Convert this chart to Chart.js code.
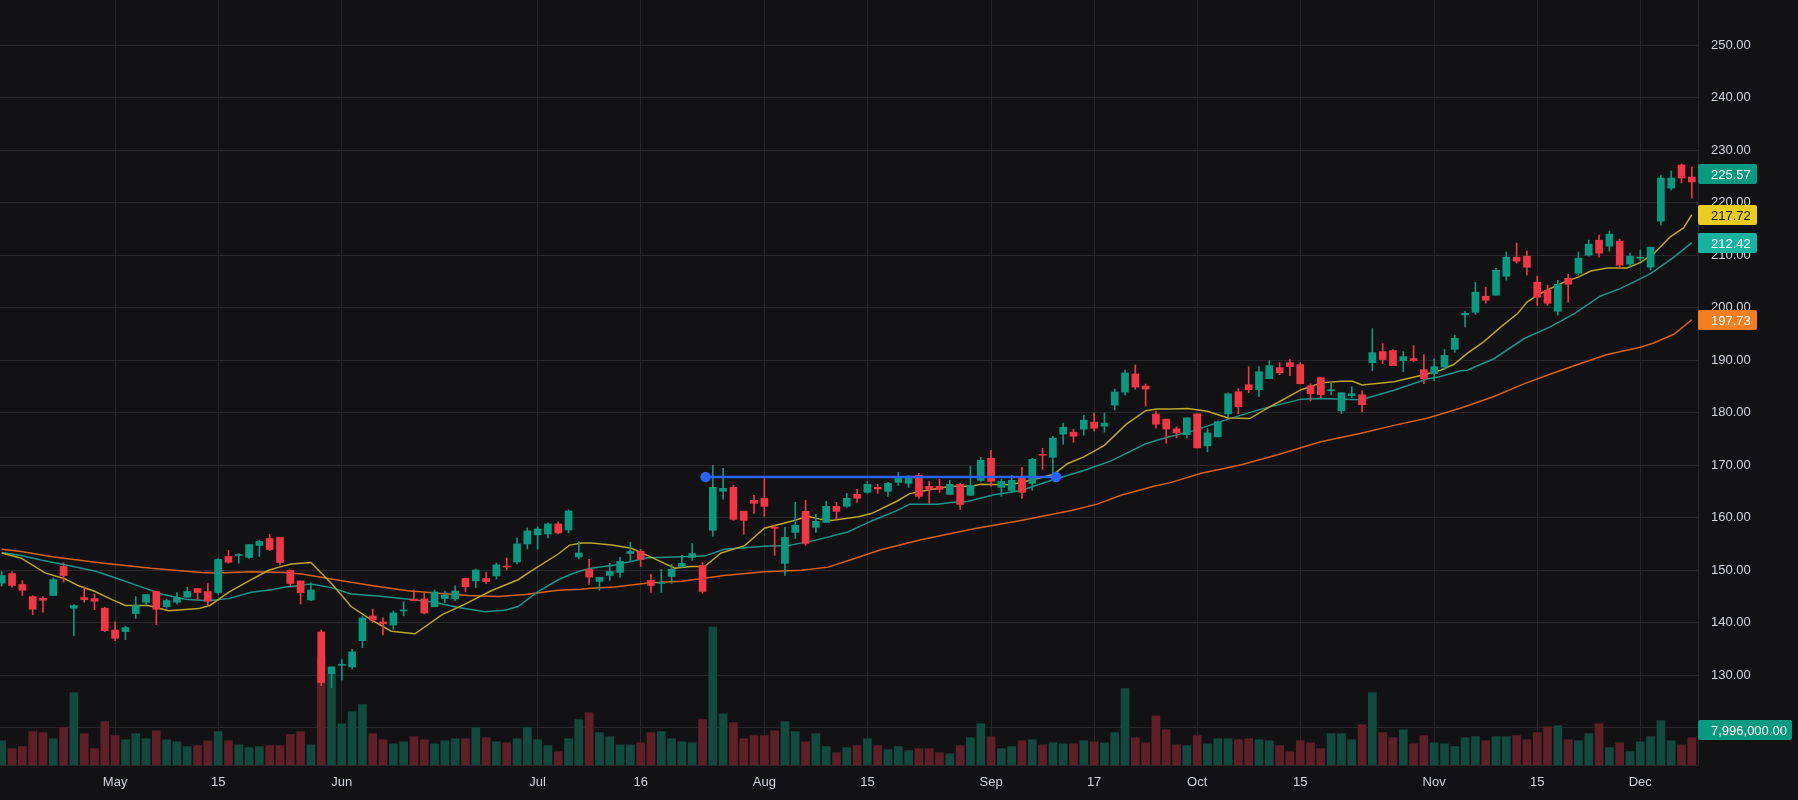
<!DOCTYPE html>
<html>
<head>
<meta charset="utf-8">
<title>Candles</title>
<script src="https://cdn.jsdelivr.net/npm/chart.js@4.4.1/dist/chart.umd.min.js"></script>
<style>
  html, body { margin: 0; padding: 0; background: #121214; }
  canvas { display: block; }
</style>
</head>
<body>
<canvas id="c" width="1798" height="800"></canvas>
<script>
// daily bars, index 0 = Apr 16
const opens = [
  147.54,149.38,147.29,145.0,144.68,145.19,150.72,142.77,144.8,144.61,
  142.77,138.64,138.32,141.75,143.92,145.95,143.09,143.92,144.87,146.52,
  145.95,145.76,152.63,152.82,152.44,154.72,156.06,156.25,149.96,147.97,
  144.35,138.25,130.32,131.9,131.59,136.6,141.3,140.16,139.59,142.25,
  144.54,144.54,143.08,144.6,144.54,148.44,147.97,148.44,148.92,150.8,
  151.59,155.02,156.73,156.92,158.83,157.68,152.54,150.2,147.88,149.02,
  149.6,153.2,153.6,148.07,147.5,148.83,150.74,152.45,150.93,157.6,
  165.04,165.8,161.23,163.33,163.71,158.2,151.31,157.22,161.23,158.18,
  159.13,162.18,162.18,164.47,164.85,165.8,165.03,166.75,166.56,168.09,
  165.99,165.99,164.46,166.37,164.27,167.13,171.34,165.8,165.22,167.52,
  166.56,172.1,171.53,175.92,176.31,176.88,178.22,177.45,181.46,183.95,
  187.39,185.1,179.75,178.8,176.94,175.8,179.81,173.69,175.41,179.81,
  184.01,185.35,184.39,186.5,188.6,189.55,189.17,185.16,186.69,184.2,
  180.38,183.25,183.44,189.55,191.66,191.85,189.94,190.32,188.22,187.45,
  188.7,192.09,198.64,199.15,202.2,202.39,206.02,209.64,209.83,204.87,
  203.35,199.34,205.63,206.59,210.02,212.89,211.74,212.7,208.31,209.45,
  207.74,216.51,222.81,227.2,224.91
];
const highs = [
  149.76,149.76,148.05,145.19,145.0,148.56,151.42,143.47,146.9,145.5,
  142.96,140.17,139.34,145.0,145.38,145.95,144.49,145.76,146.78,146.52,
  147.48,152.24,153.77,153.2,154.91,155.68,156.82,156.25,149.96,147.97,
  147.59,138.63,131.59,133.05,134.95,141.3,142.6,140.92,142.25,143.97,
  146.25,145.68,146.25,146.06,147.02,148.44,150.25,149.68,151.4,152.35,
  156.16,158.06,158.25,159.02,159.21,161.5,155.4,152.1,148.64,151.31,
  152.45,155.3,153.98,149.21,150.17,151.12,152.83,155.1,151.5,170.0,
  169.43,166.19,161.23,164.28,167.5,158.56,158.18,162.94,163.33,160.65,
  163.14,162.94,164.66,165.42,166.95,166.37,166.75,168.66,168.09,168.47,
  166.94,167.32,167.13,166.56,169.81,171.53,172.87,167.32,168.09,169.62,
  171.34,173.25,175.54,178.03,176.88,179.55,179.94,179.94,184.52,188.15,
  189.11,185.48,180.32,178.8,177.32,179.04,179.81,176.94,178.47,183.82,
  184.59,188.79,188.79,189.94,189.55,190.13,189.55,185.54,186.69,185.73,
  183.82,184.97,184.2,196.05,193.18,192.04,191.66,192.8,191.08,190.32,
  192.09,194.76,199.34,204.87,203.92,207.54,210.6,212.32,210.79,206.02,
  204.3,205.25,206.4,210.6,212.89,213.84,214.6,213.08,210.41,210.98,
  211.55,225.3,226.06,227.39,226.82
];
const lows = [
  146.97,146.78,145.19,141.56,142.0,145.19,147.73,137.56,143.92,142.52,
  138.3,136.6,136.8,140.87,143.4,139.66,142.77,143.53,144.87,144.36,
  143.4,145.38,151.35,151.35,152.24,152.63,153.77,151.04,147.1,143.59,
  144.22,128.03,127.65,129.1,131.2,135.27,140.03,137.68,138.76,141.3,
  144.22,141.68,143.08,143.84,144.22,145.94,146.7,147.46,148.35,150.06,
  151.21,154.06,154.06,156.16,156.92,157.11,152.16,147.3,146.16,148.07,
  148.64,151.88,150.74,145.78,145.78,147.5,150.55,151.88,145.6,156.46,
  163.52,159.51,156.84,160.84,160.27,152.83,149.02,156.08,154.74,157.22,
  159.13,159.7,161.99,162.94,164.66,164.65,164.08,166.18,165.8,163.69,
  162.74,164.84,164.46,161.59,164.27,166.94,165.99,164.08,164.84,163.69,
  165.22,169.24,168.09,174.01,174.39,175.73,176.5,176.31,180.51,183.38,
  184.52,181.27,177.07,174.2,175.22,175.22,173.31,172.55,175.41,179.24,
  179.81,183.82,183.06,186.5,187.26,187.07,185.54,182.29,182.87,183.44,
  179.81,182.87,180.19,188.03,189.36,188.98,187.83,189.75,185.54,186.12,
  188.27,191.51,196.35,198.77,200.86,202.39,205.25,208.5,206.21,200.48,
  200.48,198.58,201.06,206.21,209.83,209.64,210.79,207.54,207.74,208.88,
  207.16,215.75,222.43,223.77,220.9
];
const closes = [
  149.0,147.1,146.2,142.58,144.3,148.24,149.0,143.28,144.42,144.1,
  138.51,137.05,139.08,143.28,145.38,142.58,144.23,144.74,145.95,145.76,
  144.1,152.05,151.54,153.0,154.91,155.49,153.96,151.48,147.48,145.75,
  146.25,128.6,131.59,132.1,134.44,140.92,140.54,139.84,141.87,142.44,
  144.22,141.87,145.87,145.3,146.06,146.89,150.06,147.84,151.02,150.6,
  155.02,157.49,157.87,158.83,157.11,161.3,153.3,148.7,148.64,149.79,
  151.69,153.6,152.07,147.11,147.7,150.17,151.31,153.2,145.97,165.8,
  165.61,159.7,159.51,162.75,162.18,158.0,156.27,158.56,155.12,159.32,
  162.18,161.23,163.71,163.71,166.38,165.48,166.56,167.71,167.52,164.08,
  165.41,165.41,166.37,162.55,166.18,170.96,166.94,166.94,167.13,164.84,
  171.15,171.9,175.16,177.26,175.54,178.6,177.07,178.03,183.95,187.58,
  184.9,184.52,177.83,176.9,176.18,179.04,173.31,176.18,178.28,183.63,
  181.15,184.39,187.83,188.98,187.64,188.79,185.54,183.63,183.44,184.39,
  183.82,183.63,181.53,191.46,190.13,188.98,190.7,189.94,186.5,188.79,
  190.94,194.19,198.95,202.96,201.44,207.16,209.64,208.88,207.74,202.01,
  200.86,204.49,204.49,209.45,212.12,210.41,214.03,208.12,209.83,209.64,
  211.55,224.72,224.72,224.72,223.96
];
// volume in millions
const volumes = [
  7.1,4.8,5.4,9.8,9.5,7.7,10.9,21.2,9.2,4.8,
  12.7,8.6,7.4,9.2,7.7,10.0,7.4,6.8,5.4,5.7,
  7.1,9.8,7.1,5.9,5.1,5.4,5.7,5.7,8.9,9.8,
  5.9,31.4,26.7,12.1,15.6,17.7,9.2,7.4,6.2,6.8,
  8.3,7.4,6.2,7.1,7.7,7.7,10.9,8.0,6.8,6.5,
  7.7,10.9,7.4,5.7,3.9,7.7,13.3,15.3,9.5,8.3,
  5.9,5.9,6.5,9.5,9.8,7.7,6.8,6.5,13.3,40.4,
  15.0,12.4,7.7,8.6,8.6,10.0,12.7,9.8,6.8,9.2,
  5.4,3.6,5.1,5.7,7.7,5.7,4.5,5.4,4.2,4.8,
  4.8,3.6,3.3,5.7,8.0,12.1,8.3,4.8,5.4,7.1,
  7.4,5.9,6.5,6.2,6.2,7.1,6.8,6.5,9.5,22.4,
  8.0,6.5,14.4,10.3,5.9,5.7,8.6,6.2,7.7,7.7,
  7.4,7.7,7.4,7.1,5.7,3.9,7.1,6.5,4.8,9.2,
  9.2,7.4,11.8,21.2,9.5,8.0,10.3,6.2,8.6,6.5,
  6.2,5.4,8.0,8.3,7.1,8.3,8.3,8.6,7.4,9.5,
  11.2,11.5,7.4,7.1,9.2,12.1,5.1,6.5,3.9,6.8,
  8.3,13.0,7.1,5.9,7.996
];

// moving averages: [bar index, value]
const fastMA = [[0,153.3],[1.9,152.3],[4.2,149.5],[6.1,148.4],[7.4,147.1],[9,146],[10.7,144.4],[12,143.3],[14.2,143.3],[16.2,142.3],[19.1,142.7],[20.2,143.3],[22,145.8],[23.9,147.9],[25.9,150],[27.1,150.7],[28.1,151.2],[30,151.5],[32,147.5],[33.9,143.1],[35.9,140.5],[37.8,138.4],[40.1,137.9],[42.7,141.5],[45,143.6],[47.5,146.1],[50.1,148.2],[51.4,149.9],[54,153.1],[55.1,154.8],[56.3,155.2],[57.2,155.2],[59.2,154.8],[61.1,154.2],[62.7,152.8],[65.3,150.4],[66.9,150.7],[68.2,150.7],[69.8,153.3],[72.1,154.7],[74,158],[76.9,159.5],[78.2,160.3],[79.5,159.7],[80.5,159.5],[83.1,160.2],[84.4,160.8],[86.9,163.2],[88.1,164.6],[90.2,165.4],[92.1,166],[94.1,166],[95,166.4],[97.9,166.3],[100.5,167.5],[102.1,168.3],[103.4,170.3],[105,171.6],[107,173.8],[109.1,177.8],[111,180.4],[112.1,180.7],[113.4,180.7],[115.1,180.8],[117,180.3],[119,179],[121.1,178.9],[123.2,181.3],[126.1,184.4],[128,185.7],[130,186],[131.1,186],[132,185.3],[135.1,185.9],[137.7,187.1],[139.6,188.1],[140.9,189.2],[142.2,191.3],[143.8,193.5],[145.5,196.4],[147.1,198.9],[148,201.1],[149,202.4],[150.3,203.7],[151.6,204.9],[152.9,205.8],[154.2,207],[155.8,207.6],[157.7,207.6],[159,208.6],[160.3,210.3],[161.9,213.5],[163.2,215.2],[164,217.72]];
const midMA = [[0,153.4],[1.9,152.8],[3.9,151.9],[6.5,150.9],[9.1,149.8],[11.3,148.4],[13.6,146.8],[15.5,145.5],[17.8,144.5],[20,144.2],[22,144.6],[24.2,145.8],[26.2,146.3],[27.5,146.8],[28.1,146.9],[30,147.4],[32,146.7],[33.9,145.5],[36.5,145.1],[39.1,144.6],[41.7,144],[44.3,142.9],[46.9,142.1],[48.8,142.4],[50.1,143.1],[52,145.9],[54,148.2],[55.3,149.3],[56.2,149.9],[57.2,150.4],[59.5,151],[62.7,152.4],[66,152.6],[68.2,152.7],[70.1,154],[74,154.6],[76.3,154.7],[78.9,155.7],[82.1,157.3],[84.4,159.4],[85.3,160.1],[86.9,161.4],[88.1,162.6],[90.8,162.6],[92.1,162.9],[93.7,163.1],[96.3,164.4],[98.9,165.2],[102.1,167.3],[105,169],[107.6,170.8],[110.9,174],[112.5,175],[113.4,175.5],[115.7,176.6],[119,178.8],[122.2,180.7],[126.1,182.6],[128,182.7],[131.9,182.5],[135.1,184.3],[138.4,186.5],[139.6,186.9],[141.6,188],[142.2,188.1],[144.8,190.3],[147.7,194.1],[150.3,196.4],[152.6,198.9],[155.1,202.2],[157.1,203.7],[160,206.5],[162.3,209.7],[164,212.42]];
const slowMA = [[0,154],[1.9,153.6],[4.9,152.6],[9.7,151.4],[14.5,150.4],[19.4,149.6],[21,149.5],[24.2,149.7],[27.5,149.6],[29.1,149.3],[33,148],[36.2,147],[39.4,146.1],[42.7,145.6],[45.3,145.2],[48.2,145],[50.8,145.4],[54,146.2],[56.2,146.4],[57.2,146.6],[59.5,146.8],[62.7,147.6],[66,147.9],[70.1,149],[74,149.7],[77.6,150],[80.2,150.6],[82.1,151.8],[85.3,153.9],[89.2,155.8],[94.1,157.8],[98.9,159.5],[103.8,161.4],[106.3,162.6],[108.6,164.3],[111.8,166],[113.4,166.7],[116.4,168.5],[120.3,170.1],[123.8,172],[128,174.5],[131.9,176.1],[135.1,177.6],[138.4,179],[141.6,180.9],[144.8,183.1],[147.7,185.5],[150.3,187.4],[153.2,189.4],[155.8,191.1],[159,192.5],[160.3,193.3],[162.3,195],[164,197.73]];

const trendLine = [[68.3, 167.77], [102.3, 167.77]];
const lastPrice = 225.57;

const tickIdx = [11, 21, 33, 52, 62, 74, 84, 96, 106, 116, 126, 139, 149, 159];
const tickText = ['May', '15', 'Jun', 'Jul', '16', 'Aug', '15', 'Sep', '17', 'Oct', '15', 'Nov', '15', 'Dec'];
const priceTicks = [120, 130, 140, 150, 160, 170, 180, 190, 200, 210, 220, 230, 240, 250];

const UP = '#089981', DOWN = '#f23645';
const VOL_UP = '#124a3f', VOL_DOWN = '#5e1f28';
const BG = '#121214', GRID = '#28282c', TXT = '#d1d4dc';
const FONT = '"Liberation Sans", Arial, sans-serif';

const up = closes.map((c, i) => c >= opens[i]);
const candleColor = up.map(u => u ? UP : DOWN);
const volColor = up.map(u => u ? VOL_UP : VOL_DOWN);

const pts = arr => arr.map(p => ({x: p[0], y: p[1]}));

function maLine(arr, color) {
    return {
        type: 'line',
        data: pts(arr),
        borderColor: color,
        borderWidth: 1.5,
        pointRadius: 0,
        tension: 0,
        order: 3,
        yAxisID: 'y'
    };
}

// no side padding, the plot has to touch the canvas edges
function noPad(s) {
    s.paddingLeft = 0;
    s.paddingRight = 0;
    s.paddingTop = 0;
    s.paddingBottom = 0;
}

const bgPlugin = {
    id: 'bg',
    beforeDraw(chart) {
        const c = chart.ctx;
        c.save();
        c.fillStyle = BG;
        c.fillRect(0, 0, chart.width, chart.height);
        c.restore();
    }
};

const tagPlugin = {
    id: 'tags',
    afterDraw(chart) {
        const c = chart.ctx;
        const y = chart.scales.y, yv = chart.scales.yv;
        const left = chart.chartArea.right;
        function tag(py, text, bg, fg, w) {
            c.save();
            c.fillStyle = bg;
            c.beginPath();
            c.roundRect(left, Math.round(py) - 10, w, 20, 2);
            c.fill();
            c.fillStyle = fg;
            c.font = '13px ' + FONT;
            c.textAlign = 'left';
            c.textBaseline = 'middle';
            c.fillText(text, left + 13, Math.round(py) + 1);
            c.restore();
        }
        const last = a => a[a.length - 1][1];
        tag(y.getPixelForValue(lastPrice), lastPrice.toFixed(2), UP, '#ffffff', 59);
        tag(y.getPixelForValue(last(fastMA)), last(fastMA).toFixed(2), '#e8cd20', '#131722', 59);
        tag(y.getPixelForValue(last(midMA)), last(midMA).toFixed(2), '#17b3a0', '#ffffff', 59);
        tag(y.getPixelForValue(last(slowMA)), last(slowMA).toFixed(2), '#f57f20', '#ffffff', 59);
        const lastVol = volumes[volumes.length - 1] * 1e6;
        const volText = lastVol.toLocaleString('en-US', {minimumFractionDigits: 2, maximumFractionDigits: 2});
        tag(yv.getPixelForValue(volumes[volumes.length - 1]) - 8, volText, UP, '#ffffff', 94);
    }
};

new Chart(document.getElementById('c'), {
    type: 'bar',
    data: {
        datasets: [
            {
                type: 'line',
                data: pts(trendLine),
                borderColor: '#2962ff',
                borderWidth: 2.5,
                pointRadius: 4,
                pointBackgroundColor: '#2962ff',
                pointBorderColor: '#2962ff',
                order: 0,
                yAxisID: 'y'
            },
            {
                data: opens.map((o, i) => ({x: i, y: [o, closes[i]]})),
                backgroundColor: candleColor,
                barThickness: 7,
                minBarLength: 1,
                grouped: false,
                order: 1,
                yAxisID: 'y'
            },
            {
                data: lows.map((l, i) => ({x: i, y: [l, highs[i]]})),
                backgroundColor: candleColor,
                barThickness: 1,
                grouped: false,
                order: 2,
                yAxisID: 'y'
            },
            maLine(fastMA, '#b9a62b'),
            maLine(midMA, '#1d948a'),
            maLine(slowMA, '#d4621d'),
            {
                data: volumes.map((v, i) => ({x: i, y: v})),
                backgroundColor: volColor,
                barThickness: 8,
                grouped: false,
                order: 4,
                yAxisID: 'yv'
            }
        ]
    },
    options: {
        responsive: false,
        animation: false,
        layout: {padding: 0, autoPadding: false},
        plugins: {
            legend: {display: false},
            tooltip: {enabled: false}
        },
        scales: {
            x: {
                type: 'linear',
                min: -0.169,
                max: 164.6,
                offset: false,
                bounds: 'data',
                grid: {color: GRID, drawTicks: false, offset: false},
                border: {display: true, color: GRID},
                ticks: {
                    color: TXT,
                    font: {family: FONT, size: 13},
                    padding: 10,
                    autoSkip: false,
                    maxRotation: 0,
                    callback: (v, i) => tickText[i]
                },
                afterBuildTicks: s => { s.ticks = tickIdx.map(v => ({value: v})); },
                afterFit: s => { s.height = 35; noPad(s); }
            },
            y: {
                position: 'right',
                min: 112.91,
                max: 258.63,
                bounds: 'data',
                grid: {color: GRID, drawTicks: false},
                border: {display: true, color: '#2a2a2e'},
                ticks: {
                    color: TXT,
                    font: {family: FONT, size: 13},
                    padding: 13,
                    callback: v => v === 120 ? '' : v.toFixed(2)
                },
                afterBuildTicks: s => { s.ticks = priceTicks.map(v => ({value: v})); },
                afterFit: s => { s.width = 100; noPad(s); }
            },
            yv: {
                display: false,
                min: 0,
                max: 224.1
            }
        }
    },
    plugins: [bgPlugin, tagPlugin]
});
</script>
</body>
</html>
